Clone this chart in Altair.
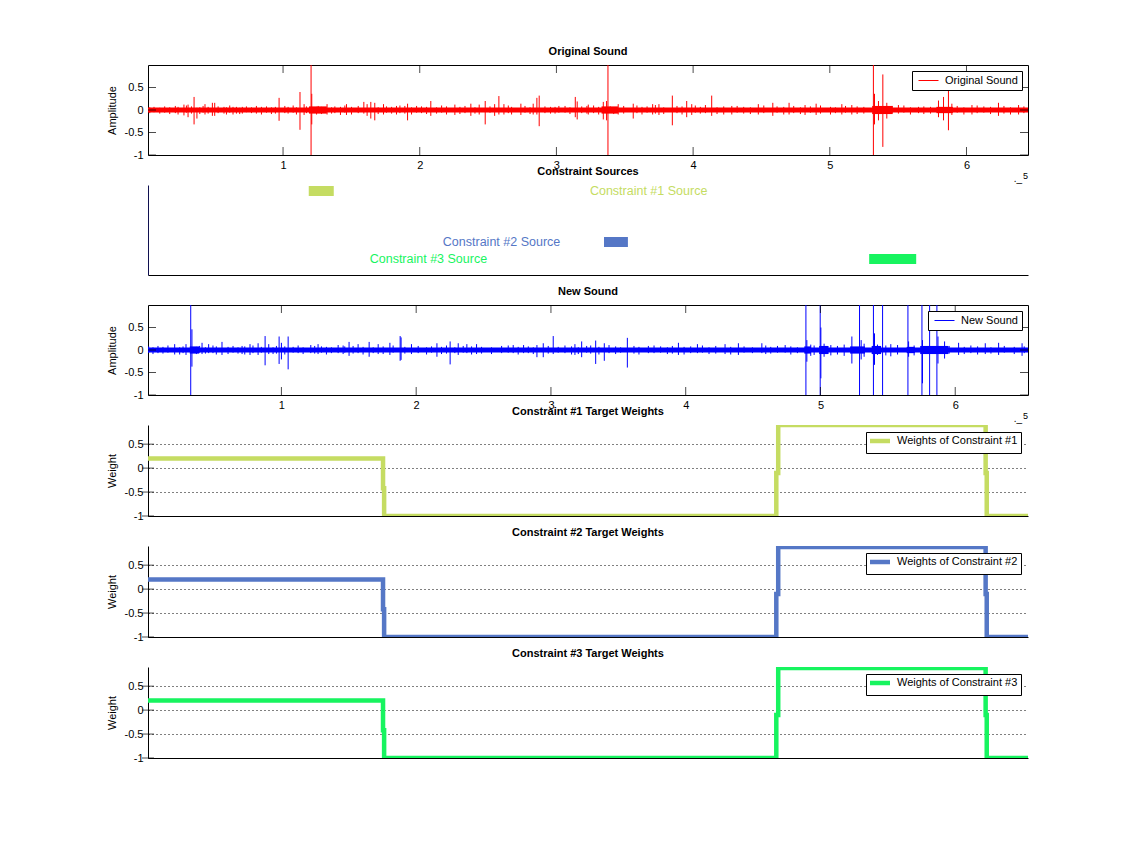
import altair as alt
import pandas as pd

FONT = "Liberation Sans"

# ---------------- data (x in units of 1e5 samples) ----------------
orig_t = [0.275, 0.305, 0.349, 0.370, 0.429, 0.483, 0.500, 0.568, 0.634, 0.702, 0.944, 0.971,
          1.124, 1.154, 1.210, 1.245, 1.322, 1.420, 1.464, 1.591, 1.615, 1.642, 1.671, 1.735,
          1.830, 1.891, 1.911, 2.081, 2.257, 2.374, 2.435, 2.479, 2.548, 2.579, 2.616, 2.740,
          2.830, 2.857, 2.874, 2.957, 3.018, 3.138, 3.152, 3.233, 3.343, 3.367, 3.452, 3.562,
          3.704, 3.750, 3.848, 3.953, 3.990, 4.136, 4.283, 4.477, 4.583, 4.702, 4.819, 4.900,
          5.088, 5.161, 5.327, 5.356, 5.388, 5.417, 5.502, 5.649, 5.795, 5.832, 5.868, 5.893,
          6.040, 6.234, 6.381]
orig_hi = [0.12, 0.12, 0.29, 0.05, 0.13, 0.16, 0.16, 0.07, 0.07, 0.07, 0.07, 0.27,
           0.40, 0.13, 0.36, 0.07, 0.13, 0.07, 0.13, 0.18, 0.13, 0.18, 0.16, 0.13,
           0.09, 0.09, 0.14, 0.20, 0.12, 0.14, 0.12, 0.20, 0.13, 0.31, 0.13, 0.14,
           0.14, 0.27, 0.32, 0.07, 0.09, 0.29, 0.19, 0.12, 0.18, 0.20, 0.13, 0.14,
           0.13, 0.13, 0.32, 0.20, 0.13, 0.32, 0.09, 0.13, 0.16, 0.16, 0.11, 0.14,
           0.13, 0.11, 0.36, 0.20, 0.79, 0.16, 0.11, 0.07, 0.21, 0.29, 0.50, 0.14,
           0.11, 0.16, 0.11]
orig_lo = [-0.12, -0.16, -0.32, -0.19, -0.10, -0.13, -0.13, -0.08, -0.10, -0.08, -0.08, -0.24,
           -0.44, -0.11, -0.32, -0.10, -0.10, -0.11, -0.11, -0.08, -0.13, -0.19, -0.23, -0.10,
           -0.10, -0.08, -0.23, -0.13, -0.11, -0.13, -0.10, -0.32, -0.13, -0.10, -0.10, -0.11,
           -0.10, -0.10, -0.36, -0.08, -0.06, -0.16, -0.21, -0.10, -0.21, -0.23, -0.10, -0.19,
           -0.10, -0.11, -0.34, -0.16, -0.11, -0.13, -0.10, -0.10, -0.13, -0.10, -0.11, -0.11,
           -0.10, -0.10, -0.32, -0.23, -0.82, -0.19, -0.08, -0.07, -0.16, -0.23, -0.45, -0.11,
           -0.10, -0.13, -0.10]
# small ticks riding on the baseline
orig_small_t = [0.025, 0.056, 0.098, 0.134, 0.171, 0.212, 0.232, 0.293, 0.330, 0.391, 0.415, 0.452,
                0.525, 0.586, 0.610, 0.659, 0.683, 0.732, 0.769, 0.805, 0.842, 0.879, 0.915, 1.013,
                1.037, 1.074, 1.098, 1.171, 1.257, 1.281, 1.355, 1.379, 1.452, 1.501, 1.550, 1.696,
                1.757, 1.794, 1.855, 1.940, 1.977, 2.013, 2.050, 2.123, 2.160, 2.196, 2.294, 2.331,
                2.404, 2.514, 2.648, 2.672, 2.770, 2.807, 2.916, 2.990, 3.063, 3.099, 3.185,
                3.223, 3.272, 3.309, 3.394, 3.419, 3.492, 3.589, 3.626, 3.663, 3.724, 3.785, 3.882,
                3.919, 4.016, 4.053, 4.090, 4.175, 4.224, 4.322, 4.370, 4.419, 4.517, 4.614, 4.663,
                4.736, 4.785, 4.858, 4.932, 5.005, 5.041, 5.115, 5.200, 5.249, 5.456, 5.542, 5.590,
                5.688, 5.737, 5.932, 5.981, 6.078, 6.127, 6.176, 6.274, 6.322, 6.420]
orig_small_hi = [0.06, 0.07, 0.05, 0.08, 0.06, 0.09, 0.07, 0.10, 0.08, 0.06, 0.09, 0.07,
                 0.08, 0.06, 0.10, 0.07, 0.05, 0.08, 0.06, 0.09, 0.07, 0.08, 0.06, 0.09,
                 0.07, 0.10, 0.06, 0.08, 0.09, 0.07, 0.06, 0.08, 0.10, 0.07, 0.09, 0.06,
                 0.08, 0.07, 0.10, 0.06, 0.09, 0.08, 0.07, 0.06, 0.10, 0.08, 0.07, 0.09,
                 0.06, 0.08, 0.10, 0.07, 0.09, 0.06, 0.08, 0.07, 0.09, 0.06, 0.08,
                 0.09, 0.10, 0.07, 0.08, 0.06, 0.09, 0.10, 0.07, 0.08, 0.11, 0.06, 0.09,
                 0.08, 0.10, 0.07, 0.11, 0.06, 0.08, 0.09, 0.07, 0.06, 0.10, 0.08, 0.07,
                 0.09, 0.06, 0.08, 0.10, 0.07, 0.06, 0.09, 0.08, 0.07, 0.09, 0.10, 0.06,
                 0.08, 0.07, 0.09, 0.06, 0.10, 0.08, 0.07, 0.09, 0.06, 0.08]
orig_small_lo = [-0.07, -0.05, -0.08, -0.06, -0.09, -0.07, -0.10, -0.06, -0.08, -0.09, -0.06, -0.08,
                 -0.07, -0.10, -0.06, -0.08, -0.09, -0.05, -0.07, -0.08, -0.10, -0.06, -0.09, -0.07,
                 -0.08, -0.06, -0.10, -0.07, -0.06, -0.09, -0.08, -0.07, -0.06, -0.10, -0.07, -0.09,
                 -0.06, -0.08, -0.07, -0.10, -0.06, -0.07, -0.09, -0.08, -0.06, -0.10, -0.09, -0.07,
                 -0.08, -0.06, -0.07, -0.10, -0.06, -0.09, -0.07, -0.08, -0.06, -0.09, -0.07,
                 -0.08, -0.07, -0.10, -0.06, -0.09, -0.08, -0.07, -0.10, -0.06, -0.08, -0.09, -0.07,
                 -0.10, -0.06, -0.08, -0.07, -0.09, -0.10, -0.06, -0.08, -0.09, -0.07, -0.06, -0.10,
                 -0.07, -0.09, -0.06, -0.08, -0.10, -0.07, -0.06, -0.09, -0.08, -0.07, -0.06, -0.10,
                 -0.09, -0.08, -0.06, -0.10, -0.07, -0.06, -0.09, -0.08, -0.10, -0.07]
orig_clip_t = [1.205, 3.377, 5.319]
orig_band_t0 = [0.012, 1.19, 3.33, 5.31, 5.78]
orig_band_t1 = [6.45, 1.32, 3.45, 5.46, 5.90]
orig_band_a = [0.055, 0.08, 0.08, 0.09, 0.07]

new_t = [0.208, 0.292, 0.336, 0.411, 0.460, 0.559, 0.708, 0.767, 0.827, 0.879, 0.906, 0.983,
         1.000, 1.050, 1.218, 1.272, 1.421, 1.502, 1.569, 1.651, 1.718, 1.805, 1.881, 1.888,
         1.965, 2.154, 2.252, 2.312, 2.376, 2.448, 2.720, 2.797, 2.896, 2.943, 3.017, 3.178,
         3.228, 3.332, 3.396, 3.567, 3.723, 3.946, 4.087, 4.292, 4.391, 4.565, 4.738, 4.899,
         5.003, 5.233, 5.302, 5.401, 5.654, 5.757, 5.872, 5.921, 6.025, 6.223, 6.322, 6.496]
new_hi = [0.13, 0.13, 0.46, 0.16, 0.13, 0.18, 0.09, 0.13, 0.15, 0.31, 0.13, 0.30,
          0.16, 0.30, 0.11, 0.13, 0.11, 0.18, 0.13, 0.18, 0.13, 0.16, 0.31, 0.28,
          0.13, 0.15, 0.19, 0.15, 0.13, 0.13, 0.11, 0.11, 0.11, 0.15, 0.31, 0.13,
          0.19, 0.21, 0.15, 0.27, 0.09, 0.16, 0.13, 0.13, 0.15, 0.15, 0.11, 0.22,
          0.50, 0.30, 0.22, 0.37, 0.19, 0.22, 0.30, 0.19, 0.16, 0.15, 0.16, 0.15]
new_lo = [-0.10, -0.11, -0.37, -0.09, -0.07, -0.11, -0.09, -0.11, -0.11, -0.34, -0.09, -0.31,
          -0.21, -0.43, -0.07, -0.09, -0.07, -0.13, -0.07, -0.15, -0.09, -0.11, -0.24, -0.22,
          -0.09, -0.15, -0.32, -0.11, -0.07, -0.09, -0.07, -0.07, -0.16, -0.16, -0.09, -0.11,
          -0.16, -0.31, -0.24, -0.39, -0.07, -0.11, -0.07, -0.09, -0.11, -0.07, -0.06, -0.26,
          -0.63, -0.30, -0.21, -0.33, -0.15, -0.74, -0.30, -0.19, -0.11, -0.09, -0.11, -0.13]
new_small_t = [0.015, 0.047, 0.084, 0.121, 0.158, 0.245, 0.270, 0.369, 0.393, 0.436, 0.492, 0.517,
               0.604, 0.641, 0.678, 0.728, 0.789, 0.851, 0.938, 0.963, 1.025, 1.087, 1.124, 1.161,
               1.247, 1.297, 1.334, 1.371, 1.458, 1.470, 1.532, 1.606, 1.681, 1.755, 1.829, 1.916,
               2.015, 2.077, 2.114, 2.188, 2.225, 2.287, 2.349, 2.411, 2.485, 2.559, 2.634, 2.683,
               2.757, 2.832, 2.869, 2.980, 3.054, 3.104, 3.153, 3.203, 3.265,
               3.295, 3.356, 3.431, 3.480, 3.517, 3.616, 3.653, 3.765, 3.814, 3.864, 3.901, 3.988,
               4.037, 4.124, 4.173, 4.223, 4.334, 4.433, 4.495, 4.594, 4.631, 4.681, 4.780, 4.829,
               4.928, 4.953, 5.027, 5.077, 5.126, 5.176, 5.324, 5.423, 5.485, 5.522, 5.572, 5.695,
               5.955, 6.067, 6.116, 6.166, 6.265, 6.364, 6.438, 6.512]
new_small_hi = [0.08, 0.06, 0.09, 0.07, 0.10, 0.06, 0.08, 0.07, 0.09, 0.06, 0.10, 0.08,
                0.07, 0.09, 0.06, 0.08, 0.10, 0.07, 0.06, 0.09, 0.08, 0.07, 0.10, 0.06,
                0.09, 0.08, 0.07, 0.06, 0.10, 0.08, 0.09, 0.07, 0.06, 0.08, 0.10, 0.07,
                0.09, 0.06, 0.08, 0.07, 0.10, 0.06, 0.09, 0.08, 0.07, 0.06, 0.09, 0.10,
                0.07, 0.08, 0.06, 0.09, 0.07, 0.10, 0.08, 0.06, 0.09,
                0.10, 0.07, 0.11, 0.08, 0.06, 0.09, 0.07, 0.10, 0.08, 0.06, 0.09, 0.07,
                0.08, 0.10, 0.06, 0.09, 0.07, 0.08, 0.06, 0.10, 0.07, 0.09, 0.08, 0.06,
                0.12, 0.10, 0.14, 0.11, 0.09, 0.12, 0.14, 0.12, 0.10, 0.13, 0.11, 0.10,
                0.09, 0.07, 0.10, 0.08, 0.06, 0.09, 0.07, 0.08]
new_small_lo = [-0.06, -0.09, -0.07, -0.08, -0.06, -0.10, -0.07, -0.09, -0.06, -0.08, -0.07, -0.10,
                -0.09, -0.06, -0.08, -0.10, -0.07, -0.06, -0.09, -0.08, -0.10, -0.06, -0.07, -0.09,
                -0.08, -0.06, -0.10, -0.07, -0.09, -0.06, -0.08, -0.10, -0.07, -0.09, -0.06, -0.08,
                -0.07, -0.10, -0.06, -0.09, -0.08, -0.07, -0.06, -0.10, -0.08, -0.09, -0.07, -0.06,
                -0.10, -0.07, -0.09, -0.08, -0.06, -0.07, -0.10, -0.09, -0.06,
                -0.08, -0.10, -0.07, -0.09, -0.06, -0.08, -0.10, -0.07, -0.06, -0.09, -0.08, -0.10,
                -0.07, -0.06, -0.09, -0.08, -0.10, -0.06, -0.07, -0.09, -0.08, -0.06, -0.10, -0.07,
                -0.13, -0.11, -0.15, -0.12, -0.10, -0.13, -0.15, -0.11, -0.12, -0.14, -0.10, -0.12,
                -0.08, -0.09, -0.07, -0.10, -0.08, -0.06, -0.09, -0.07]
new_clip_t = [0.327, 4.892, 4.998, 5.290, 5.393, 5.461, 5.649, 5.753, 5.810, 5.864]
new_band_t0 = [0.01, 0.32, 4.88, 4.99, 5.22, 5.38, 5.64, 5.74]
new_band_t1 = [6.54, 0.39, 4.93, 5.06, 5.33, 5.45, 5.70, 5.95]
new_band_a = [0.055, 0.08, 0.08, 0.09, 0.08, 0.09, 0.07, 0.09]

src_names = ["Constraint #1 Source", "Constraint #2 Source", "Constraint #3 Source"]
src_t0 = [1.188, 3.348, 5.288]
src_t1 = [1.371, 3.523, 5.632]
src_y0 = [79, 28, 11]
src_y1 = [89, 38, 21]
src_label_t = [3.245, 2.169, 1.634]
src_label_y = [84, 33, 16]
src_colors = ["#c5dc62", "#5577c6", "#17f45f"]

w_t = [0.0, 1.72, 1.72, 1.728, 1.728, 4.598, 4.598, 4.612, 4.612, 6.13, 6.13, 6.138, 6.138, 6.44]
w1 = [0.2, 0.2, -0.42, -0.42, -1.0, -1.0, -0.1, -0.1, 0.9, 0.9, -0.1, -0.1, -1.0, -1.0]
w2 = [0.2, 0.2, -0.42, -0.42, -1.0, -1.0, -0.1, -0.1, 0.88, 0.88, -0.1, -0.1, -1.0, -1.0]
w3 = [0.2, 0.2, -0.42, -0.42, -1.0, -1.0, -0.1, -0.1, 0.88, 0.88, -0.1, -0.1, -1.0, -1.0]

y_ticks = [-1, -0.5, 0, 0.5]
x_ticks = [1, 2, 3, 4, 5, 6]

W = 880


def cols(**kw):
    n = min(len(v) for v in kw.values())
    return pd.DataFrame({k: list(v)[:n] for k, v in kw.items()})


def title(text):
    return alt.TitleParams(text, fontSize=11, fontWeight="bold", font=FONT, offset=8,
                           anchor="middle", color="black")


def legend(color, width, offset, path, size, pad, sym_off, lab_off):
    return alt.Legend(title=None, orient="top-right", offset=offset,
                      symbolType=path, symbolSize=size, symbolStrokeWidth=width,
                      symbolStrokeColor=color, symbolFillColor="transparent",
                      symbolOffset=sym_off, labelOffset=lab_off, labelFont=FONT,
                      labelFontSize=11, labelColor="black", strokeColor="black",
                      fillColor="white", padding=pad)


def sound_panel(name, ttl, t, hi, lo, st, shi, slo, clip_t, b0, b1, ba, color, xdom, h):
    xs = alt.Scale(domain=xdom, nice=False, zero=False)
    ys = alt.Scale(domain=[-1, 1], nice=False, zero=False)
    xa = alt.Axis(values=x_ticks, ticks=False, domain=False, grid=False, title=None,
                  labelPadding=4, labelExpr="toString(datum.value)")
    ya = alt.Axis(values=y_ticks, ticks=False, domain=False, grid=False, title="Amplitude",
                  labelPadding=5, titlePadding=6.5, labelExpr="toString(datum.value)")
    band_df = cols(x=b0, x2=b1, y=[-a for a in ba], y2=ba)
    sp_df = cols(x=list(t) + list(st), y=list(lo) + list(slo), y2=list(hi) + list(shi))
    sp_df["s"] = name
    cl_df = cols(x=clip_t, y=[-1.5] * len(clip_t), y2=[1.5] * len(clip_t))
    band = alt.Chart(band_df).mark_rect(color=color, clip=True).encode(
        x=alt.X("x:Q", scale=xs, axis=xa), x2="x2", y=alt.Y("y:Q", scale=ys, axis=ya), y2="y2")
    spikes = alt.Chart(sp_df).mark_rule(strokeWidth=1, clip=True).encode(
        x=alt.X("x:Q", scale=xs, axis=xa), y=alt.Y("y:Q", scale=ys, axis=ya), y2="y2",
        color=alt.Color("s:N", scale=alt.Scale(domain=[name], range=[color]),
                        legend=legend(color, 1, 6, "M-2,0H2", 100, 4, 7, 11)))
    clipped = alt.Chart(cl_df).mark_rule(strokeWidth=1, clip=True, color=color).encode(
        x=alt.X("x:Q", scale=xs, axis=xa), y=alt.Y("y:Q", scale=ys, axis=ya), y2="y2")
    yt = pd.DataFrame({"y": y_ticks})
    xt = pd.DataFrame({"x": x_ticks})
    lt = alt.Chart(yt).mark_tick(orient="horizontal", size=8, thickness=1, color="black").encode(
        y=alt.Y("y:Q", scale=ys, axis=ya), x=alt.value(4))
    rt = alt.Chart(yt).mark_tick(orient="horizontal", size=8, thickness=1, color="black").encode(
        y=alt.Y("y:Q", scale=ys, axis=ya), x=alt.value(W - 4))
    bt = alt.Chart(xt).mark_tick(orient="vertical", size=8, thickness=1, color="black").encode(
        x=alt.X("x:Q", scale=xs, axis=xa), y=alt.value(h - 4))
    tt = alt.Chart(xt).mark_tick(orient="vertical", size=8, thickness=1, color="black").encode(
        x=alt.X("x:Q", scale=xs, axis=xa), y=alt.value(4))
    expo = alt.Chart(pd.DataFrame({"e": ["._"]})).mark_text(
        font=FONT, fontSize=10, align="right", baseline="bottom", color="black").encode(
        text="e:N", x=alt.value(W - 6), y=alt.value(h + 29))
    expo5 = alt.Chart(pd.DataFrame({"e": ["5"]})).mark_text(
        font=FONT, fontSize=9, align="right", baseline="bottom", color="black").encode(
        text="e:N", x=alt.value(W), y=alt.value(h + 26))
    return alt.layer(band, clipped, spikes, lt, rt, bt, tt, expo, expo5).properties(
        width=W, height=h, title=title(ttl),
        view=alt.ViewBackground(stroke="black", strokeWidth=1))


def sources_panel(h):
    xs = alt.Scale(domain=[0.012, 6.45], nice=False, zero=False)
    ys = alt.Scale(domain=[0, 90], nice=False, zero=False)
    xa = alt.Axis(ticks=False, labels=False, domain=True, domainColor="black", grid=False, title=None)
    ya = alt.Axis(ticks=False, labels=False, domain=True, domainColor="#101050", grid=False, title=None)
    cs = alt.Scale(domain=src_names, range=src_colors)
    rect_df = cols(n=src_names, x=src_t0, x2=src_t1, y=src_y0, y2=src_y1)
    lab_df = cols(n=src_names, x=src_label_t, y=src_label_y)
    rects = alt.Chart(rect_df).mark_rect().encode(
        x=alt.X("x:Q", scale=xs, axis=xa), x2="x2", y=alt.Y("y:Q", scale=ys, axis=ya), y2="y2",
        color=alt.Color("n:N", scale=cs, legend=None))
    labs = alt.Chart(lab_df).mark_text(font=FONT, fontSize=12.5, align="left", baseline="middle").encode(
        x=alt.X("x:Q", scale=xs, axis=xa), y=alt.Y("y:Q", scale=ys, axis=ya), text="n:N",
        color=alt.Color("n:N", scale=cs, legend=None))
    return alt.layer(rects, labs).properties(width=W, height=h, title=title("Constraint Sources"),
                                             view=alt.ViewBackground(stroke=None))


def weight_panel(name, ttl, w, color, h):
    xs = alt.Scale(domain=[0.0, 6.44], nice=False, zero=False)
    ys = alt.Scale(domain=[-1, 0.9], nice=False, zero=False)
    xa = alt.Axis(ticks=False, labels=False, domain=True, domainColor="black", grid=False, title=None)
    ya = alt.Axis(values=y_ticks, ticks=False, domain=True, domainColor="black", grid=True,
                  gridDash=[1, 3], gridColor="black", gridOpacity=1, gridWidth=1,
                  title="Weight", titlePadding=6.5, labelPadding=5,
                  labelExpr="toString(datum.value)")
    df = cols(x=w_t, y=w, o=list(range(len(w_t))))
    df["s"] = name
    line = alt.Chart(df).mark_line(strokeWidth=4.5, clip=True, strokeJoin="miter").encode(
        x=alt.X("x:Q", scale=xs, axis=xa), y=alt.Y("y:Q", scale=ys, axis=ya), order="o:Q",
        color=alt.Color("s:N", scale=alt.Scale(domain=[name], range=[color]),
                        legend=legend(color, 4.5, 7, "M-2.86,0H2.86", 49, 3, 5, 11)))
    lt = alt.Chart(pd.DataFrame({"y": y_ticks})).mark_tick(
        orient="horizontal", size=12, thickness=1, color="black").encode(
        y=alt.Y("y:Q", scale=ys, axis=ya), x=alt.value(0))
    return alt.layer(line, lt).properties(width=W, height=h, title=title(ttl),
                                          view=alt.ViewBackground(stroke=None))


p1 = sound_panel("Original Sound", "Original Sound", orig_t, orig_hi, orig_lo,
                 orig_small_t, orig_small_hi, orig_small_lo, orig_clip_t,
                 orig_band_t0, orig_band_t1, orig_band_a, "#ff0000", [0.012, 6.45], 90)
p2 = sources_panel(90)
p3 = sound_panel("New Sound", "New Sound", new_t, new_hi, new_lo,
                 new_small_t, new_small_hi, new_small_lo, new_clip_t,
                 new_band_t0, new_band_t1, new_band_a, "#0000ff", [0.01, 6.54], 90)
p4 = weight_panel("Weights of Constraint #1", "Constraint #1 Target Weights", w1, src_colors[0], 91)
p5 = weight_panel("Weights of Constraint #2", "Constraint #2 Target Weights", w2, src_colors[1], 91)
p6 = weight_panel("Weights of Constraint #3", "Constraint #3 Target Weights", w3, src_colors[2], 91)

chart = alt.vconcat(p1, p2, p3, p4, p5, p6, spacing=30, bounds="flush").resolve_scale(
    x="independent", y="independent", color="independent").resolve_legend(
    color="independent").properties(
    padding={"left": 98, "top": 37, "right": 10, "bottom": 5}).configure(
    font=FONT).configure_axis(
    labelFont=FONT, labelFontSize=11, labelColor="black", titleFont=FONT, titleFontSize=11,
    titleFontWeight="normal", titleColor="black").configure_view(stroke=None)

chart.save("out.html", embed_options={"renderer": "svg", "actions": False})
